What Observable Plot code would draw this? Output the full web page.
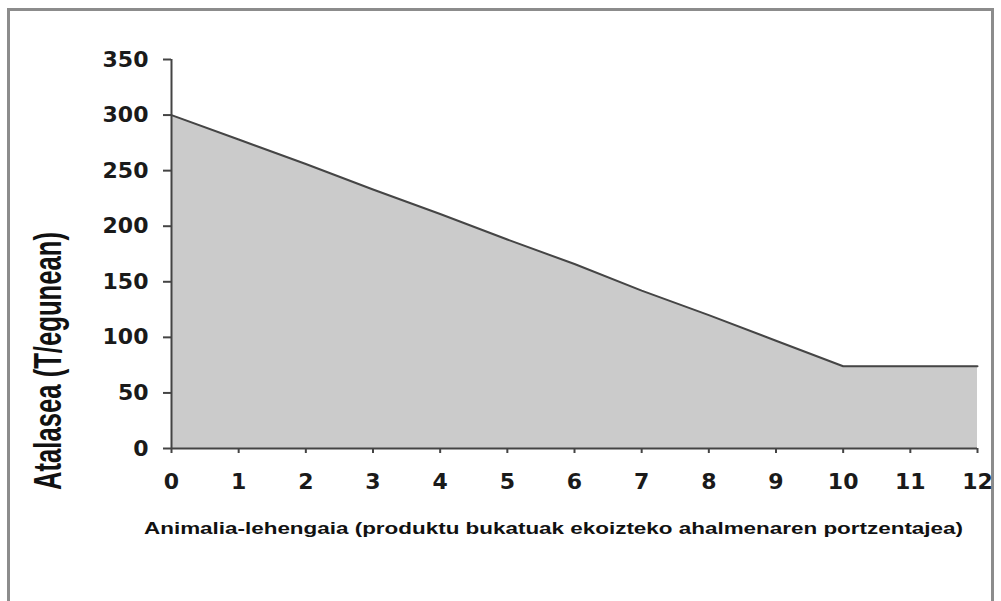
<!DOCTYPE html>
<html>
<head>
<meta charset="utf-8">
<script src="https://cdn.jsdelivr.net/npm/d3@7"></script>
<script src="https://cdn.jsdelivr.net/npm/@observablehq/plot@0.6"></script>
<style>
  html, body { margin: 0; padding: 0; background: #fff; }
  #wrap { position: relative; width: 1001px; height: 601px; overflow: hidden; background: #fff; }
  #frame { position: absolute; left: 7px; top: 8px; width: 987px; height: 700px; border: 3px solid #8c8c8c; box-sizing: border-box; }
  #chart { position: absolute; left: 0; top: 0; }
</style>
</head>
<body>
<div id="wrap">
  <div id="frame"></div>
  <div id="chart"></div>
</div>
<script>
// Data
const xValues = [0, 1, 2, 3, 4, 5, 6, 7, 8, 9, 10, 11, 12];
const yValues = [300, 278, 256, 233, 211, 188, 166, 142, 120, 97, 74, 74, 74];
const xTicks = [0, 1, 2, 3, 4, 5, 6, 7, 8, 9, 10, 11, 12];
const yTicks = [0, 50, 100, 150, 200, 250, 300, 350];
const xLabel = "Animalia-lehengaia (produktu bukatuak ekoizteko ahalmenaren portzentajea)";
const yLabel = "Atalasea (T/egunean)";

const data = xValues.map((x, i) => ({x, y: yValues[i]}));

const chart = Plot.plot({
  width: 1001,
  height: 601,
  marginLeft: 171,
  marginRight: 24,
  marginTop: 59,
  marginBottom: 153,
  x: {domain: [0, 12]},
  y: {domain: [0, 350]},
  style: {fontFamily: "DejaVu Sans", background: "transparent", color: "#1a1a1a"},
  marks: [
    Plot.areaY(data, {x: "x", y: "y", fill: "#cbcbcb"}),
    Plot.lineY(data, {x: "x", y: "y", stroke: "#454545", strokeWidth: 2}),
    Plot.axisY({ticks: yTicks, tickSize: 8, tickPadding: 15, label: null, fontSize: 22, fontWeight: "bold", stroke: "#444", fill: "#1a1a1a", strokeWidth: 2}),
    Plot.axisX({ticks: xTicks, tickSize: 5, tickPadding: 20, label: null, fontSize: 22, fontWeight: "bold", stroke: "#444", fill: "#1a1a1a", strokeWidth: 2, tickFormat: d => String(d)}),
    Plot.ruleX([0], {stroke: "#444", strokeWidth: 2}),
    Plot.ruleY([0], {stroke: "#444", strokeWidth: 2}),
    Plot.text([yLabel], {frameAnchor: "left", dx: -123, dy: 107, rotate: -90, text: d => d,
      fontFamily: "Liberation Sans Narrow, Liberation Sans, Arial", fontWeight: "bold", fontSize: 38, fill: "#111", lineAnchor: "middle", textAnchor: "middle"}),
    Plot.text([xLabel], {frameAnchor: "bottom", dx: -21, dy: 80, text: d => d,
      fontFamily: "Liberation Sans, Arial", fontWeight: "bold", fontSize: 16, fill: "#111", lineAnchor: "middle", textAnchor: "middle"})
  ]
});

document.getElementById("chart").appendChild(chart);

// Fit label lengths to the reference
d3.select(chart).selectAll("text").each(function() {
  const t = this.textContent;
  if (t === yLabel) {
    this.setAttribute("textLength", 258);
    this.setAttribute("lengthAdjust", "spacingAndGlyphs");
  } else if (t === xLabel) {
    this.setAttribute("textLength", 819);
    this.setAttribute("lengthAdjust", "spacingAndGlyphs");
  }
});
</script>
</body>
</html>
